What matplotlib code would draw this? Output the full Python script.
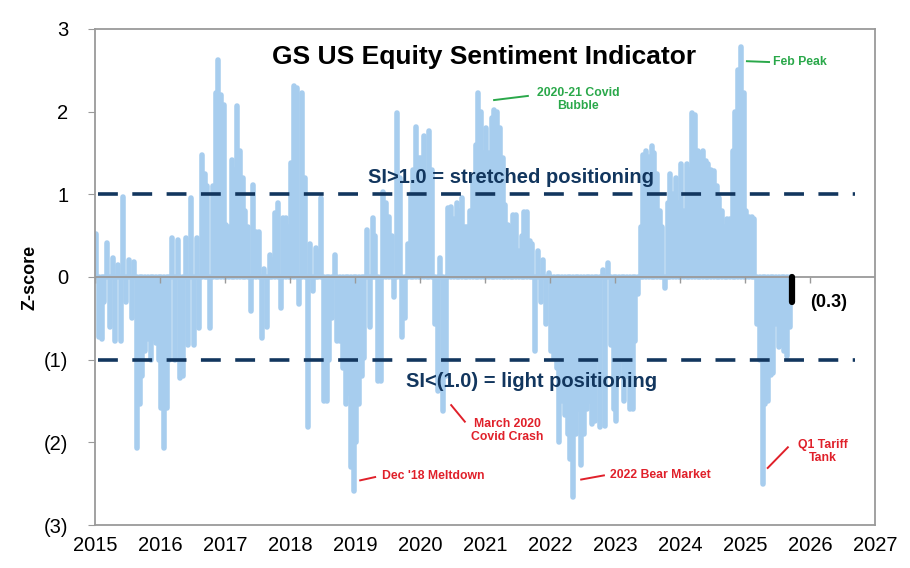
import numpy as np
import matplotlib
matplotlib.use("Agg")
import matplotlib.pyplot as plt

plt.rcParams['font.family'] = ['Liberation Sans', 'DejaVu Sans']

### semi-monthly z-scores (24 per year)
z2015 = [0.52, -0.73, -0.75, -0.3, 0.41, -0.6, 0.23, -0.78, 0.15, -0.78, 0.97, -0.3,
         0.2, -0.5, 0.18, -2.07, -1.54, -1.2, -0.9, -0.75, -1.0, -0.74, -0.8, -1.0]
z2016 = [-1.58, -2.07, -1.58, -1.0, 0.47, -1.0, 0.45, -1.22, -1.2, 0.47, -0.82, 0.95,
         -0.82, 0.47, -0.62, 1.48, 1.24, 1.1, -0.62, 1.1, 2.23, 2.62, 2.2, 2.08]
z2017 = [0.63, 0.6, 1.42, 1.3, 2.07, 1.52, 1.2, 0.8, 0.6, -0.41, 1.11, 0.55,
         0.55, -0.74, 0.1, -0.6, 0.27, 0.2, 0.77, 0.89, -0.37, 0.71, 0.71, 0.6]
z2018 = [1.38, 2.31, 2.29, -0.33, 2.22, 1.2, -1.82, 0.4, -0.17, 0.35, 0.3, 0.95,
         -1.5, -1.5, -1.0, -0.5, 0.27, -0.77, -0.77, -1.1, -1.54, -1.4, -2.3, -2.59]
z2019 = [-2.0, -1.54, -1.2, -0.98, 0.57, -0.6, 0.71, 0.5, -1.26, -1.26, 1.03, 0.9,
         0.73, 0.5, -0.24, 1.98, 1.2, -0.72, -0.5, 0.4, 1.0, 1.3, 1.82, 1.44]
z2020 = [1.44, 1.7, 1.2, 1.76, 1.3, -0.57, -1.38, 0.23, -1.62, -1.2, 0.83, 0.85,
         0.7, 0.9, 0.8, 0.95, 0.6, 0.6, 0.8, 1.2, 1.6, 2.22, 2.0, 1.5]
z2021 = [1.8, 1.5, 1.92, 2.02, 2.0, 1.8, 1.44, 0.87, 0.63, 0.6, 0.75, 0.75,
         0.31, 0.5, 0.79, 0.79, 0.43, 0.4, -0.9, 0.31, -0.3, 0.2, -0.57, 0.05]
z2022 = [-0.9, -0.98, -1.1, -2.0, -1.5, -1.67, -1.9, -2.2, -2.66, -1.9, -1.6, -2.27,
         -1.9, -1.6, -1.5, -1.78, -1.74, -1.0, -1.82, 0.09, -1.8, 0.17, -0.82, -1.6]
z2023 = [-1.74, -1.18, -1.0, -1.5, -1.2, -1.6, -1.6, -0.78, -0.2, 0.6, 1.48, 1.52,
         1.45, 1.58, 1.5, 1.24, 0.8, 0.6, -0.13, 0.9, 1.24, 1.0, 1.2, 0.9]
z2024 = [1.37, 0.8, 1.37, 1.3, 1.98, 1.96, 1.52, 1.5, 1.52, 1.4, 1.37, 1.3,
         1.28, 1.1, 0.95, 0.8, 0.6, 0.7, 0.7, 1.52, 2.0, 2.5, 2.78, 2.23]
z2025 = [0.8, 0.73, 0.73, 0.7, -0.57, -1.0, -2.5, -1.54, -1.5, -1.18, -1.16, -0.57,
         -0.85, -0.82, -0.9, -0.95, -0.6]
years = [2015, 2016, 2017, 2018, 2019, 2020, 2021, 2022, 2023, 2024, 2025]
latest_date = 2025.72
latest_val = -0.3

ytick_vals = [-3, -2, -1, 0, 1, 2, 3]
ytick_labels = ['(3)', '(2)', '(1)', '0', '1', '2', '3']
xtick_years = list(range(2015, 2028))

### build x positions
series = [z2015, z2016, z2017, z2018, z2019, z2020, z2021, z2022, z2023, z2024, z2025]
xs = []
zs = []
for yr, vals in zip(years, series):
    for i, v in enumerate(vals):
        xs.append(yr + (i + 0.5) / 24)
        zs.append(v)
xs = np.array(xs)
zs = np.array(zs)

fig = plt.figure(figsize=(9.1, 5.68), dpi=100)
ax = fig.add_axes([0.1044, 0.0757, 0.8571, 0.8733])

bars = ax.vlines(xs, 0, zs, colors='#a7cdee', linewidth=4.0, zorder=2)
bars.set_capstyle('round')
last = ax.vlines([latest_date], 0, [latest_val], colors='black', linewidth=4.5, zorder=4)
last.set_capstyle('round')

# zero line + year ticks
ax.axhline(0, color='#9a9a9a', lw=1.3, zorder=3)
ax.vlines(xtick_years, -0.07, 0, colors='#9a9a9a', lw=1.0, zorder=3)

# threshold lines
navy = '#12365e'
for lvl in (1, -1):
    ax.plot([2015.05, 2026.7], [lvl, lvl], color=navy, lw=2.6,
            linestyle=(0, (5.5, 4.0)), zorder=3)

ax.set_xlim(2015, 2027)
ax.set_ylim(-3, 3)
ax.set_xticks(xtick_years)
ax.set_xticklabels([str(y) for y in xtick_years], fontsize=14.5)
ax.tick_params(axis='x', length=0, pad=8)
ax.set_yticks(ytick_vals)
ax.set_yticklabels(ytick_labels, fontsize=14.5)
ax.tick_params(axis='y', length=5, color='#9a9a9a', pad=14)
for s in ax.spines.values():
    s.set_color('#9a9a9a')
    s.set_linewidth(1.3)
ax.set_ylabel('Z-score', fontsize=13, fontweight='bold', labelpad=4)

ax.text(2020.98, 2.66, 'GS US Equity Sentiment Indicator', ha='center', va='center',
        fontsize=19, fontweight='bold', zorder=5)
ax.text(2021.4, 1.2, 'SI>1.0 = stretched positioning', ha='center', va='center',
        fontsize=14.5, fontweight='bold', color=navy, zorder=5)
ax.text(2021.72, -1.26, 'SI<(1.0) = light positioning', ha='center', va='center',
        fontsize=14.5, fontweight='bold', color=navy, zorder=5)

green = '#2aa84a'
red = '#e0202a'
ax.text(2022.43, 2.15, '2020-21 Covid\nBubble', ha='center', va='center',
        fontsize=8.8, fontweight='bold', color=green, linespacing=1.1)
ax.plot([2021.14, 2021.66], [2.14, 2.19], color=green, lw=1.4)
ax.text(2025.43, 2.6, 'Feb Peak', ha='left', va='center',
        fontsize=8.8, fontweight='bold', color=green)
ax.plot([2025.03, 2025.37], [2.61, 2.6], color=green, lw=1.4)

ax.text(2021.34, -1.86, 'March 2020\nCovid Crash', ha='center', va='center',
        fontsize=8.8, fontweight='bold', color=red, linespacing=1.1)
ax.plot([2020.48, 2020.69], [-1.55, -1.75], color=red, lw=1.4)
ax.text(2019.42, -2.41, "Dec '18 Meltdown", ha='left', va='center',
        fontsize=8.8, fontweight='bold', color=red)
ax.plot([2019.08, 2019.31], [-2.46, -2.42], color=red, lw=1.4)
ax.text(2022.92, -2.39, '2022 Bear Market', ha='left', va='center',
        fontsize=8.8, fontweight='bold', color=red)
ax.plot([2022.48, 2022.83], [-2.45, -2.4], color=red, lw=1.4)
ax.text(2026.2, -2.11, 'Q1 Tariff\nTank', ha='center', va='center',
        fontsize=8.8, fontweight='bold', color=red, linespacing=1.1)
ax.plot([2025.35, 2025.66], [-2.31, -2.06], color=red, lw=1.4)

ax.text(2026.29, -0.31, '(0.3)', ha='center', va='center',
        fontsize=13, fontweight='bold', color='black')

fig.savefig('out.png', dpi=100)
